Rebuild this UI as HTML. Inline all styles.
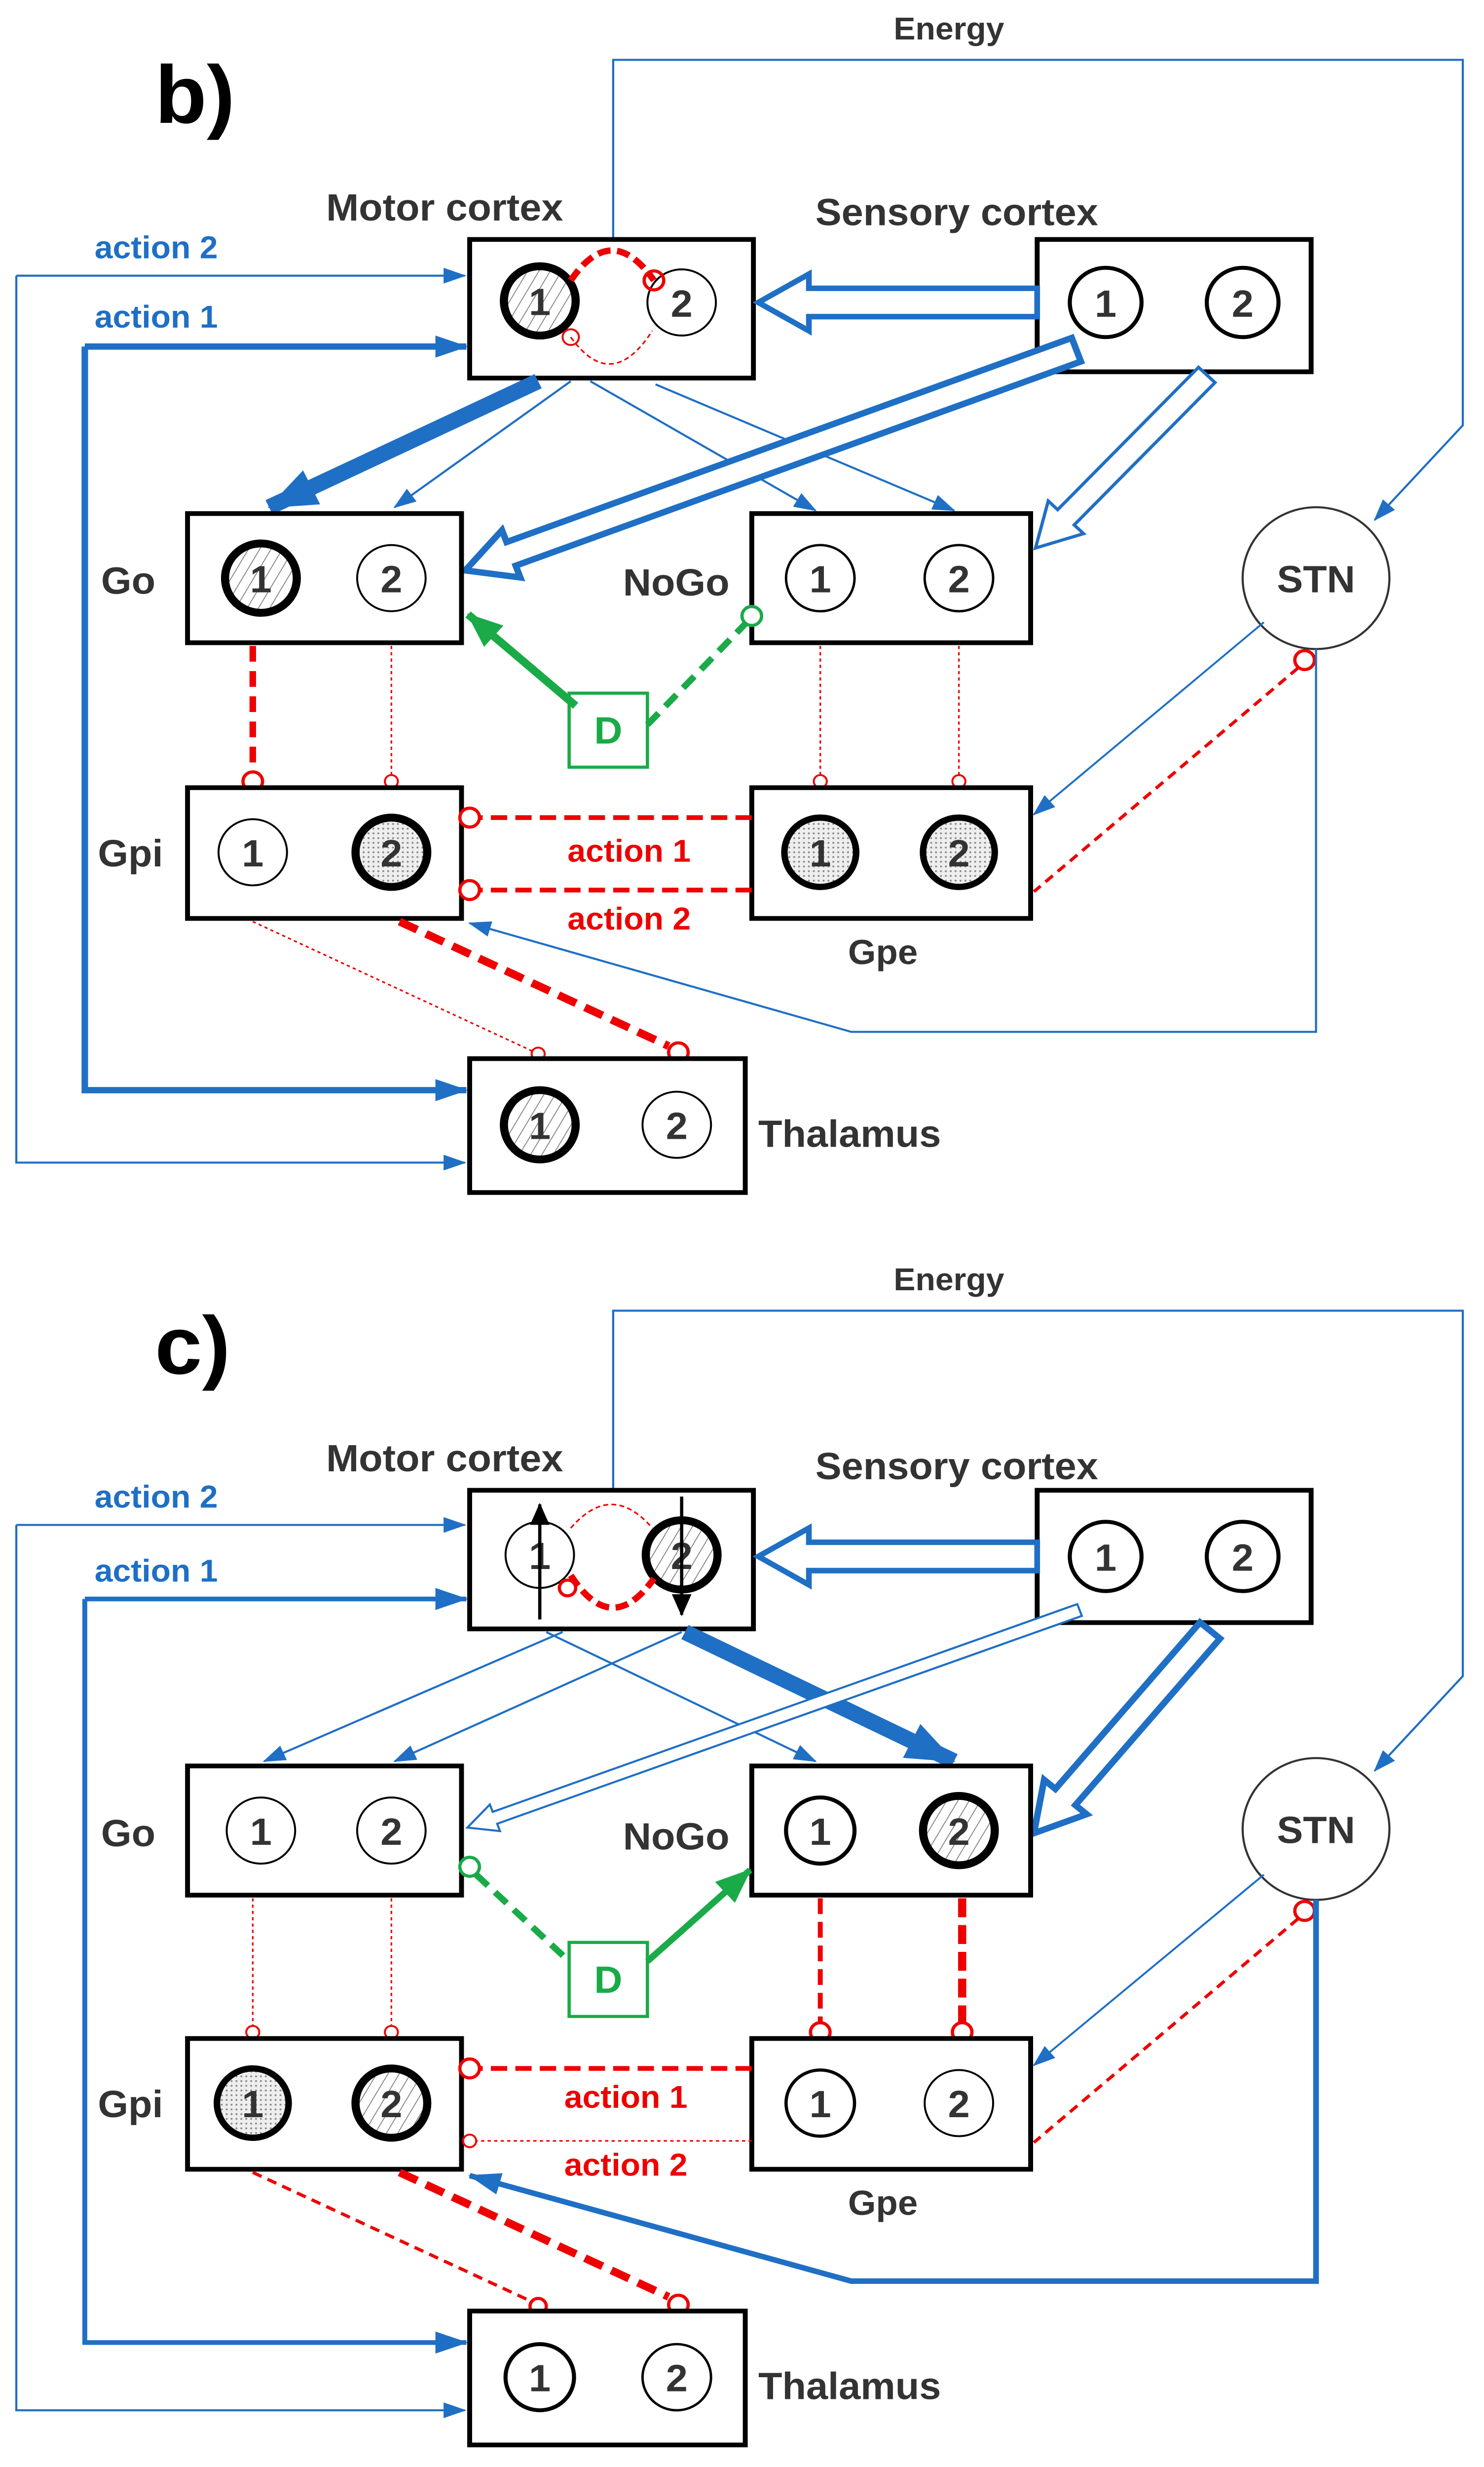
<!DOCTYPE html>
<html><head><meta charset="utf-8"><style>
html,body{margin:0;padding:0;background:#fff;overflow:hidden;}
svg{display:block;position:absolute;left:0;top:0;width:100vw;height:100vh;}
text{font-family:"Liberation Sans",Arial,sans-serif;font-weight:bold;}
</style></head><body>
<svg viewBox="0 0 910 1566" preserveAspectRatio="none" xmlns="http://www.w3.org/2000/svg">
<defs>
<pattern id="hat" patternUnits="userSpaceOnUse" width="6" height="6" patternTransform="rotate(30)">
<rect width="6" height="6" fill="#fff"/><line x1="0" y1="0" x2="0" y2="6" stroke="#777" stroke-width="1"/></pattern>
<pattern id="dot" patternUnits="userSpaceOnUse" width="3" height="3">
<rect width="3" height="3" fill="#eee"/><circle cx="1" cy="1" r="0.6" fill="#888"/></pattern>
<marker id="as" markerUnits="userSpaceOnUse" markerWidth="14" markerHeight="10" refX="13" refY="5" orient="auto"><path d="M0,0 L14,5 L0,10 z" fill="#1f6fc5"/></marker>
<marker id="am" markerUnits="userSpaceOnUse" markerWidth="20" markerHeight="14" refX="19" refY="7" orient="auto"><path d="M0,0 L20,7 L0,14 z" fill="#1f6fc5"/></marker>
<marker id="ab" markerUnits="userSpaceOnUse" markerWidth="30" markerHeight="24" refX="29" refY="12" orient="auto"><path d="M0,0 L30,12 L0,24 z" fill="#1f6fc5"/></marker>
<marker id="ag" markerUnits="userSpaceOnUse" markerWidth="22" markerHeight="18" refX="21" refY="9" orient="auto"><path d="M0,0 L22,9 L0,18 z" fill="#1aaa48"/></marker>
<marker id="ak" markerUnits="userSpaceOnUse" markerWidth="14" markerHeight="12" refX="13" refY="6" orient="auto"><path d="M0,0 L14,6 L0,12 z" fill="#000"/></marker>
</defs>
<rect width="910" height="1566" fill="#fff"/>

<g>
<text x="95" y="78" font-size="52" fill="#000">b)</text>
<text x="548" y="25" font-size="20" fill="#333">Energy</text>
<polyline points="376,152 376,38 897,38 897,270 843,330" fill="none" stroke="#1f6fc5" stroke-width="1.3" marker-end="url(#as)"/>
<text x="200" y="140" font-size="24" fill="#333">Motor cortex</text>
<text x="500" y="143" font-size="24" fill="#333">Sensory cortex</text>
<text x="58" y="164" font-size="20" fill="#1f6fc5">action 2</text>
<text x="58" y="208" font-size="20" fill="#1f6fc5">action 1</text>
<line x1="10" y1="175" x2="285" y2="175" stroke="#1f6fc5" stroke-width="1.3" marker-end="url(#as)"/>
<polyline points="10,175 10,738 285,738" fill="none" stroke="#1f6fc5" stroke-width="1.3" marker-end="url(#as)"/>
<polyline points="52,220 286,220" fill="none" stroke="#1f6fc5" stroke-width="4" marker-end="url(#am)"/>
<polyline points="52,220 52,692 286,692" fill="none" stroke="#1f6fc5" stroke-width="4" marker-end="url(#am)"/>
<rect x="288" y="152" width="174" height="88" fill="#fff" stroke="#000" stroke-width="3"/>
<circle cx="331" cy="191" r="22" fill="url(#hat)" stroke="#000" stroke-width="5"/>
<circle cx="418" cy="192" r="21" fill="#fff" stroke="#000" stroke-width="1.2"/>
<path d="M350,178 Q375,140 401,178" fill="none" stroke="#e00" stroke-width="4" stroke-dasharray="8,4"/>
<path d="M350,214 Q375,250 400,210" fill="none" stroke="#e00" stroke-width="1" stroke-dasharray="3,2"/>
<circle cx="401" cy="178" r="6" fill="none" stroke="#e00" stroke-width="2"/>
<circle cx="350" cy="214" r="5" fill="none" stroke="#e00" stroke-width="1.2"/>
<text x="331" y="200" font-size="24" text-anchor="middle" fill="#333">1</text>
<text x="418" y="201" font-size="24" text-anchor="middle" fill="#333">2</text>
<rect x="636" y="152" width="168" height="84" fill="#fff" stroke="#000" stroke-width="3"/>
<circle cx="678" cy="192" r="22" fill="#fff" stroke="#000" stroke-width="2.5"/>
<circle cx="762" cy="192" r="22" fill="#fff" stroke="#000" stroke-width="2.5"/>
<text x="678" y="201" font-size="24" text-anchor="middle" fill="#333">1</text>
<text x="762" y="201" font-size="24" text-anchor="middle" fill="#333">2</text>
<polygon transform="translate(636,192) rotate(180)" points="0,-9 140,-9 140,-18 171,0 140,18 140,9 0,9" fill="#fff" stroke="#1f6fc5" stroke-width="3.5"/>
<line x1="330" y1="242" x2="165" y2="322" stroke="#1f6fc5" stroke-width="10" marker-end="url(#ab)"/>
<line x1="350" y1="242" x2="242" y2="322" stroke="#1f6fc5" stroke-width="1.3" marker-end="url(#as)"/>
<line x1="362" y1="242" x2="500" y2="324" stroke="#1f6fc5" stroke-width="1.3" marker-end="url(#as)"/>
<polyline points="402,244 585,324" fill="none" stroke="#1f6fc5" stroke-width="1.3" marker-end="url(#as)"/>
<polygon transform="translate(660,222) rotate(159.5)" points="0,-8 370,-8 370,-16 400,0 370,16 370,8 0,8" fill="#fff" stroke="#1f6fc5" stroke-width="4"/>
<polygon transform="translate(740,238) rotate(133.7)" points="0,-7 125,-7 125,-15 152,0 125,15 125,7 0,7" fill="#fff" stroke="#1f6fc5" stroke-width="2"/>
<text x="62" y="377" font-size="24" fill="#333">Go</text>
<rect x="115" y="326" width="168" height="82" fill="#fff" stroke="#000" stroke-width="3"/>
<circle cx="160" cy="367" r="22" fill="url(#hat)" stroke="#000" stroke-width="5"/>
<circle cx="240" cy="367" r="21" fill="#fff" stroke="#000" stroke-width="1.2"/>
<text x="160" y="376" font-size="24" text-anchor="middle" fill="#333">1</text>
<text x="240" y="376" font-size="24" text-anchor="middle" fill="#333">2</text>
<text x="382" y="378" font-size="24" fill="#333">NoGo</text>
<rect x="461" y="326" width="171" height="82" fill="#fff" stroke="#000" stroke-width="3"/>
<circle cx="503" cy="367" r="21" fill="#fff" stroke="#000" stroke-width="1.5"/>
<circle cx="588" cy="367" r="21" fill="#fff" stroke="#000" stroke-width="1.5"/>
<text x="503" y="376" font-size="24" text-anchor="middle" fill="#333">1</text>
<text x="588" y="376" font-size="24" text-anchor="middle" fill="#333">2</text>
<circle cx="807" cy="367" r="45" fill="#fff" stroke="#333" stroke-width="1.3"/>
<text x="807" y="376" font-size="24" text-anchor="middle" fill="#333">STN</text>
<rect x="349" y="440" width="48" height="47" fill="#fff" stroke="#1aaa48" stroke-width="2"/>
<text x="373" y="472" font-size="24" text-anchor="middle" fill="#1aaa48">D</text>
<line x1="353" y1="448" x2="287" y2="390" stroke="#1aaa48" stroke-width="5" marker-end="url(#ag)"/>
<line x1="397" y1="460" x2="457" y2="396" stroke="#1aaa48" stroke-width="4" stroke-dasharray="10,6"/>
<circle cx="461" cy="391" r="6" fill="#fff" stroke="#1aaa48" stroke-width="2"/>
<line x1="155" y1="410" x2="155" y2="490" stroke="#e00" stroke-width="4" stroke-dasharray="10,6"/>
<circle cx="155" cy="496" r="6" fill="#fff" stroke="#e00" stroke-width="2"/>
<line x1="240" y1="410" x2="240" y2="492" stroke="#e00" stroke-width="1" stroke-dasharray="2,2"/>
<circle cx="240" cy="496" r="4" fill="#fff" stroke="#e00" stroke-width="1.2"/>
<line x1="503" y1="410" x2="503" y2="492" stroke="#e00" stroke-width="1" stroke-dasharray="2,2"/>
<circle cx="503" cy="496" r="4" fill="#fff" stroke="#e00" stroke-width="1.2"/>
<line x1="588" y1="410" x2="588" y2="492" stroke="#e00" stroke-width="1" stroke-dasharray="2,2"/>
<circle cx="588" cy="496" r="4" fill="#fff" stroke="#e00" stroke-width="1.2"/>
<text x="60" y="550" font-size="24" fill="#333">Gpi</text>
<rect x="115" y="500" width="168" height="83" fill="#fff" stroke="#000" stroke-width="3"/>
<circle cx="155" cy="541" r="21" fill="#fff" stroke="#000" stroke-width="1.2"/>
<circle cx="240" cy="541" r="22" fill="url(#dot)" stroke="#000" stroke-width="5"/>
<text x="155" y="550" font-size="24" text-anchor="middle" fill="#333">1</text>
<text x="240" y="550" font-size="24" text-anchor="middle" fill="#333">2</text>
<rect x="461" y="500" width="171" height="83" fill="#fff" stroke="#000" stroke-width="3"/>
<circle cx="503" cy="541" r="22" fill="url(#dot)" stroke="#000" stroke-width="4"/>
<circle cx="588" cy="541" r="22" fill="url(#dot)" stroke="#000" stroke-width="4"/>
<text x="503" y="550" font-size="24" text-anchor="middle" fill="#333">1</text>
<text x="588" y="550" font-size="24" text-anchor="middle" fill="#333">2</text>
<text x="520" y="612" font-size="22" fill="#333">Gpe</text>
<line x1="461" y1="519" x2="294" y2="519" stroke="#e00" stroke-width="3" stroke-dasharray="10,5"/>
<circle cx="288" cy="519" r="6" fill="#fff" stroke="#e00" stroke-width="2"/>
<line x1="461" y1="565" x2="294" y2="565" stroke="#e00" stroke-width="3" stroke-dasharray="10,5"/>
<circle cx="288" cy="565" r="6" fill="#fff" stroke="#e00" stroke-width="2"/>
<text x="348" y="547" font-size="20" fill="#e00">action 1</text>
<text x="348" y="590" font-size="20" fill="#e00">action 2</text>
<line x1="775" y1="395" x2="634" y2="517" stroke="#1f6fc5" stroke-width="1.2" marker-end="url(#as)"/>
<line x1="796" y1="424" x2="634" y2="566" stroke="#e00" stroke-width="2" stroke-dasharray="6,4"/>
<circle cx="800" cy="419" r="6" fill="#fff" stroke="#e00" stroke-width="2"/>
<polyline points="807,412 807,655 522,655 288,586" fill="none" stroke="#1f6fc5" stroke-width="1.3" marker-end="url(#as)"/>
<line x1="155" y1="585" x2="326" y2="667" stroke="#e00" stroke-width="1" stroke-dasharray="2,2"/>
<circle cx="330" cy="669" r="4" fill="#fff" stroke="#e00" stroke-width="1.2"/>
<line x1="245" y1="585" x2="410" y2="664" stroke="#e00" stroke-width="5" stroke-dasharray="12,6"/>
<circle cx="416" cy="668" r="6" fill="#fff" stroke="#e00" stroke-width="2"/>
<rect x="288" y="672" width="169" height="85" fill="#fff" stroke="#000" stroke-width="3"/>
<circle cx="331" cy="714" r="22" fill="url(#hat)" stroke="#000" stroke-width="5"/>
<circle cx="415" cy="714" r="21" fill="#fff" stroke="#000" stroke-width="1.2"/>
<text x="331" y="723" font-size="24" text-anchor="middle" fill="#333">1</text>
<text x="415" y="723" font-size="24" text-anchor="middle" fill="#333">2</text>
<text x="465" y="728" font-size="24" fill="#333">Thalamus</text>
</g>

<g>
<text x="95" y="872" font-size="52" fill="#000">c)</text>
<text x="548" y="819" font-size="20" fill="#333">Energy</text>
<polyline points="376,946 376,832 897,832 897,1064 843,1124" fill="none" stroke="#1f6fc5" stroke-width="1.3" marker-end="url(#as)"/>
<text x="200" y="934" font-size="24" fill="#333">Motor cortex</text>
<text x="500" y="939" font-size="24" fill="#333">Sensory cortex</text>
<text x="58" y="957" font-size="20" fill="#1f6fc5">action 2</text>
<text x="58" y="1004" font-size="20" fill="#1f6fc5">action 1</text>
<polyline points="10,968 10,1530 285,1530" fill="none" stroke="#1f6fc5" stroke-width="1.3" marker-end="url(#as)"/>
<line x1="10" y1="968" x2="285" y2="968" stroke="#1f6fc5" stroke-width="1.3" marker-end="url(#as)"/>
<line x1="52" y1="1015" x2="286" y2="1015" stroke="#1f6fc5" stroke-width="3" marker-end="url(#am)"/>
<polyline points="52,1015 52,1487 286,1487" fill="none" stroke="#1f6fc5" stroke-width="3" marker-end="url(#am)"/>
<rect x="288" y="946" width="174" height="88" fill="#fff" stroke="#000" stroke-width="3"/>
<circle cx="331" cy="987" r="21" fill="#fff" stroke="#000" stroke-width="1.2"/>
<circle cx="418" cy="987" r="22" fill="url(#hat)" stroke="#000" stroke-width="5"/>
<path d="M350,1000 Q375,1040 401,1002" fill="none" stroke="#e00" stroke-width="4" stroke-dasharray="8,4"/>
<path d="M350,970 Q375,940 400,970" fill="none" stroke="#e00" stroke-width="1" stroke-dasharray="3,2"/>
<circle cx="348" cy="1008" r="5" fill="none" stroke="#e00" stroke-width="2"/>
<text x="331" y="996" font-size="24" text-anchor="middle" fill="#333">1</text>
<text x="418" y="996" font-size="24" text-anchor="middle" fill="#333">2</text>
<line x1="331" y1="1028" x2="331" y2="955" stroke="#000" stroke-width="2" marker-end="url(#ak)"/>
<line x1="418" y1="950" x2="418" y2="1025" stroke="#000" stroke-width="2" marker-end="url(#ak)"/>
<rect x="636" y="946" width="168" height="84" fill="#fff" stroke="#000" stroke-width="3"/>
<circle cx="678" cy="988" r="22" fill="#fff" stroke="#000" stroke-width="2.5"/>
<circle cx="762" cy="988" r="22" fill="#fff" stroke="#000" stroke-width="2.5"/>
<text x="678" y="997" font-size="24" text-anchor="middle" fill="#333">1</text>
<text x="762" y="997" font-size="24" text-anchor="middle" fill="#333">2</text>
<polygon transform="translate(636,988) rotate(180)" points="0,-9 140,-9 140,-18 171,0 140,18 140,9 0,9" fill="#fff" stroke="#1f6fc5" stroke-width="3.5"/>
<line x1="345" y1="1036" x2="162" y2="1118" stroke="#1f6fc5" stroke-width="1.3" marker-end="url(#as)"/>
<line x1="418" y1="1036" x2="242" y2="1118" stroke="#1f6fc5" stroke-width="1.3" marker-end="url(#as)"/>
<line x1="335" y1="1036" x2="500" y2="1118" stroke="#1f6fc5" stroke-width="1.3" marker-end="url(#as)"/>
<line x1="420" y1="1036" x2="585" y2="1118" stroke="#1f6fc5" stroke-width="10" marker-end="url(#ab)"/>
<polygon transform="translate(662,1022) rotate(159.8)" points="0,-4 382,-4 382,-9 400,0 382,9 382,4 0,4" fill="#fff" stroke="#1f6fc5" stroke-width="1.3"/>
<polygon transform="translate(742,1035) rotate(130)" points="0,-8 138,-8 138,-17 168,0 138,17 138,8 0,8" fill="#fff" stroke="#1f6fc5" stroke-width="4"/>
<text x="62" y="1172" font-size="24" fill="#333">Go</text>
<rect x="115" y="1121" width="168" height="82" fill="#fff" stroke="#000" stroke-width="3"/>
<circle cx="160" cy="1162" r="21" fill="#fff" stroke="#000" stroke-width="1.2"/>
<circle cx="240" cy="1162" r="21" fill="#fff" stroke="#000" stroke-width="1.2"/>
<text x="160" y="1171" font-size="24" text-anchor="middle" fill="#333">1</text>
<text x="240" y="1171" font-size="24" text-anchor="middle" fill="#333">2</text>
<text x="382" y="1174" font-size="24" fill="#333">NoGo</text>
<rect x="461" y="1121" width="171" height="82" fill="#fff" stroke="#000" stroke-width="3"/>
<circle cx="503" cy="1162" r="21" fill="#fff" stroke="#000" stroke-width="2.5"/>
<circle cx="588" cy="1162" r="22" fill="url(#hat)" stroke="#000" stroke-width="5"/>
<text x="503" y="1171" font-size="24" text-anchor="middle" fill="#333">1</text>
<text x="588" y="1171" font-size="24" text-anchor="middle" fill="#333">2</text>
<circle cx="807" cy="1161" r="45" fill="#fff" stroke="#333" stroke-width="1.3"/>
<text x="807" y="1170" font-size="24" text-anchor="middle" fill="#333">STN</text>
<rect x="349" y="1233" width="48" height="47" fill="#fff" stroke="#1aaa48" stroke-width="2"/>
<text x="373" y="1265" font-size="24" text-anchor="middle" fill="#1aaa48">D</text>
<line x1="292" y1="1190" x2="349" y2="1245" stroke="#1aaa48" stroke-width="4" stroke-dasharray="10,6"/>
<circle cx="288" cy="1185" r="6" fill="#fff" stroke="#1aaa48" stroke-width="2"/>
<line x1="397" y1="1245" x2="460" y2="1187" stroke="#1aaa48" stroke-width="4" marker-end="url(#ag)"/>
<line x1="155" y1="1205" x2="155" y2="1286" stroke="#e00" stroke-width="1" stroke-dasharray="2,2"/>
<circle cx="155" cy="1290" r="4" fill="#fff" stroke="#e00" stroke-width="1.2"/>
<line x1="240" y1="1205" x2="240" y2="1286" stroke="#e00" stroke-width="1" stroke-dasharray="2,2"/>
<circle cx="240" cy="1290" r="4" fill="#fff" stroke="#e00" stroke-width="1.2"/>
<line x1="503" y1="1205" x2="503" y2="1284" stroke="#e00" stroke-width="3" stroke-dasharray="10,5"/>
<circle cx="503" cy="1290" r="6" fill="#fff" stroke="#e00" stroke-width="2"/>
<line x1="590" y1="1205" x2="590" y2="1284" stroke="#e00" stroke-width="5" stroke-dasharray="12,5"/>
<circle cx="590" cy="1290" r="6" fill="#fff" stroke="#e00" stroke-width="2"/>
<text x="60" y="1344" font-size="24" fill="#333">Gpi</text>
<rect x="115" y="1294" width="168" height="83" fill="#fff" stroke="#000" stroke-width="3"/>
<circle cx="155" cy="1335" r="22" fill="url(#dot)" stroke="#000" stroke-width="4"/>
<circle cx="240" cy="1335" r="22" fill="url(#hat)" stroke="#000" stroke-width="5"/>
<text x="155" y="1344" font-size="24" text-anchor="middle" fill="#333">1</text>
<text x="240" y="1344" font-size="24" text-anchor="middle" fill="#333">2</text>
<rect x="461" y="1294" width="171" height="83" fill="#fff" stroke="#000" stroke-width="3"/>
<circle cx="503" cy="1335" r="21" fill="#fff" stroke="#000" stroke-width="2"/>
<circle cx="588" cy="1335" r="21" fill="#fff" stroke="#000" stroke-width="1.2"/>
<text x="503" y="1344" font-size="24" text-anchor="middle" fill="#333">1</text>
<text x="588" y="1344" font-size="24" text-anchor="middle" fill="#333">2</text>
<text x="520" y="1406" font-size="22" fill="#333">Gpe</text>
<line x1="461" y1="1313" x2="294" y2="1313" stroke="#e00" stroke-width="3" stroke-dasharray="10,5"/>
<circle cx="288" cy="1313" r="6" fill="#fff" stroke="#e00" stroke-width="2"/>
<line x1="461" y1="1359" x2="292" y2="1359" stroke="#e00" stroke-width="1" stroke-dasharray="2,2"/>
<circle cx="288" cy="1359" r="4" fill="#fff" stroke="#e00" stroke-width="1.2"/>
<text x="346" y="1338" font-size="20" fill="#e00">action 1</text>
<text x="346" y="1381" font-size="20" fill="#e00">action 2</text>
<line x1="775" y1="1190" x2="634" y2="1311" stroke="#1f6fc5" stroke-width="1.2" marker-end="url(#as)"/>
<line x1="796" y1="1218" x2="634" y2="1360" stroke="#e00" stroke-width="2" stroke-dasharray="6,4"/>
<circle cx="800" cy="1213" r="6" fill="#fff" stroke="#e00" stroke-width="2"/>
<polyline points="807,1206 807,1448 522,1448 288,1381" fill="none" stroke="#1f6fc5" stroke-width="3.5" marker-end="url(#am)"/>
<line x1="155" y1="1379" x2="324" y2="1460" stroke="#e00" stroke-width="2" stroke-dasharray="6,4"/>
<circle cx="330" cy="1464" r="5" fill="#fff" stroke="#e00" stroke-width="2"/>
<line x1="245" y1="1379" x2="410" y2="1458" stroke="#e00" stroke-width="5" stroke-dasharray="12,6"/>
<circle cx="416" cy="1463" r="6" fill="#fff" stroke="#e00" stroke-width="2"/>
<rect x="288" y="1467" width="169" height="85" fill="#fff" stroke="#000" stroke-width="3"/>
<circle cx="331" cy="1509" r="21" fill="#fff" stroke="#000" stroke-width="2.5"/>
<circle cx="415" cy="1509" r="21" fill="#fff" stroke="#000" stroke-width="1.5"/>
<text x="331" y="1518" font-size="24" text-anchor="middle" fill="#333">1</text>
<text x="415" y="1518" font-size="24" text-anchor="middle" fill="#333">2</text>
<text x="465" y="1523" font-size="24" fill="#333">Thalamus</text>
</g>
</svg>
</body></html>
